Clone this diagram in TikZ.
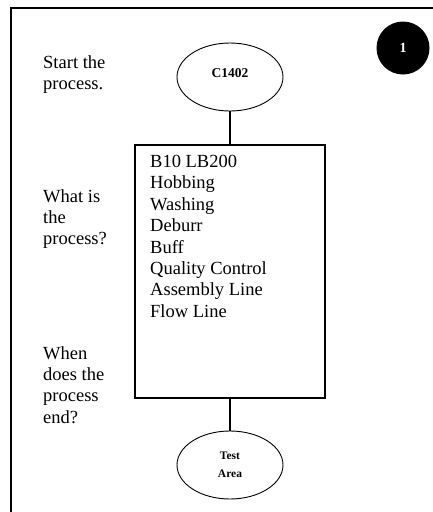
\documentclass[tikz,border=0pt]{standalone}
\usepackage{fontspec}
\setmainfont{Liberation Serif}
\usetikzlibrary{shapes.geometric}
\tikzset{
  side/.style={anchor=north west, inner sep=0pt, align=left,
    font=\fontsize{18.5}{21.4}\selectfont},
  stepbox/.style={draw, line width=1.4pt, minimum width=190pt, minimum height=253pt,
    inner sep=0pt},
  term/.style={ellipse, draw, line width=0.9pt, minimum width=106pt, minimum height=68pt,
    inner sep=0pt, align=center},
  link/.style={line width=1.4pt},
}
\begin{document}
\begin{tikzpicture}[x=1pt, y=-1pt]
  \useasboundingbox (0,0) rectangle (433,512);
  % page frame (only top and left edges fall inside the sheet)
  \draw[line width=2pt] (11,512) -- (11,8) -- (433,8);

  % number badge
  \node[circle, fill=black, minimum size=53pt, inner sep=0pt, text=white,
        font=\fontsize{14}{14}\selectfont\bfseries] (badge) at (403,48) {1};

  % flow chart
  \node[term, font=\fontsize{13.5}{13.5}\selectfont\bfseries, text depth=8pt]
    (start) at (230,77) {C1402};
  \node[stepbox] (proc) at (230,271.5) {};
  \node[side] (steps) at (150,155)
    {B10 LB200\\Hobbing\\Washing\\Deburr\\Buff\\Quality Control\\Assembly Line\\Flow Line};
  \node[term, font=\fontsize{11.5}{18}\selectfont\bfseries] (finish) at (230,465) {Test\\Area};
  \draw[link] (start) -- (proc);
  \draw[link] (proc) -- (finish);

  % questions on the left
  \node[side] (q1) at (43,55) {Start the\\process.};
  \node[side] (q2) at (43,189) {What is\\the\\process?};
  \node[side] (q3) at (43,346) {When\\does the\\process\\end?};
\end{tikzpicture}
\end{document}
